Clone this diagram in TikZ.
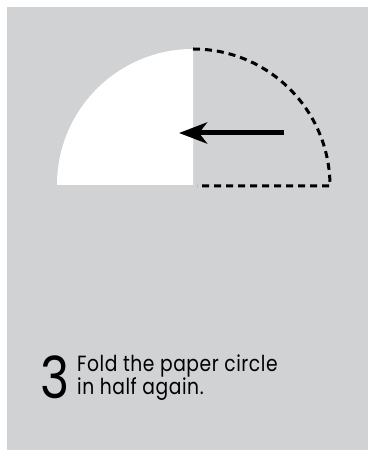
\documentclass[tikz,border=0pt]{standalone}
\usepackage{fontspec}
\setmainfont{Poppins}
\usetikzlibrary{arrows.meta,positioning}
\definecolor{panelgray}{RGB}{209,210,212}

\begin{document}
\begin{tikzpicture}[x=1pt, y=1pt, >={Stealth[length=28pt,width=21pt,inset=8pt]}]
  % Page and panel
  \fill[white] (0,0) rectangle (375,457);
  \fill[panelgray] (7,7) rectangle (368,450);

  % Folded quarter (white paper)
  \coordinate (centre) at (193,272);
  \fill[white] (centre) -- ++(-136,0) arc[start angle=180, end angle=90, radius=136] -- cycle;

  % Outline of the half that folds over
  \draw[line width=3pt, dash pattern=on 7pt off 5pt]
    (centre) ++(0,136) arc[start angle=90, end angle=0, radius=137] -- ++(-133,0);

  % Fold arrow
  \coordinate (tail) at (284,324);
  \coordinate (tip) at (179,324);
  \draw[->, line width=5pt] (tail) -- (tip);

  % Step label
  \coordinate (numpos) at (40,58);
  \coordinate (textpos) at (77,62);
  \node[anchor=base west, inner sep=0pt, xscale=0.85, transform shape,
        font=\fontsize{58}{58}\selectfont] (stepnum) at (numpos) {3};
  \node[anchor=base west, inner sep=0pt, align=left, xscale=0.85, transform shape,
        font=\fontsize{22}{20}\selectfont\addfontfeatures{LetterSpace=3}]
    (steptext) at (textpos) {Fold the paper circle\\in half again.};
\end{tikzpicture}
\end{document}
